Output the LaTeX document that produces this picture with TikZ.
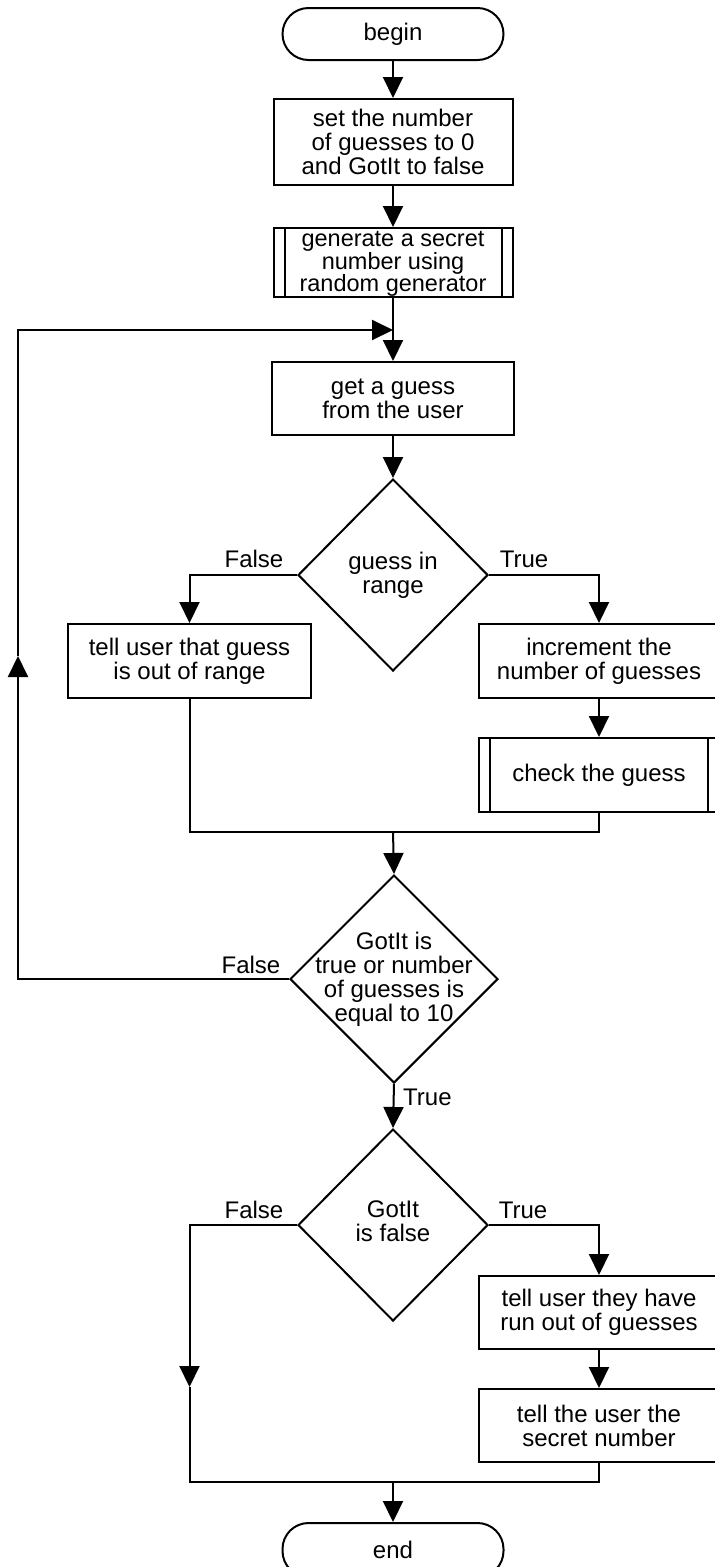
\documentclass[tikz,border=0pt]{standalone}
\usepackage{fontspec}
\setmainfont{Liberation Sans}
\usetikzlibrary{arrows.meta,shapes.geometric}

\tikzset{
  x=1pt, y=-1pt,
  base/.style={font={\fontsize{24}{24}\selectfont}, align=center, inner sep=0pt},
  flow/.style={line width=2pt, line join=miter},
  arr/.style={flow, -{Triangle[width=20pt,length=21pt]}},
  box/.style={base, draw, line width=2pt, minimum width=240pt, minimum height=74pt},
  subbox/.style={box},
  term/.style={base, draw, line width=2pt, rounded corners=26pt, minimum width=221pt, minimum height=52pt},
  decision/.style={diamond, draw, line width=2pt, inner sep=0pt, minimum width=190pt, minimum height=192pt},
  lbl/.style={base},
}

\begin{document}
\begin{tikzpicture}
\useasboundingbox (0,0) rectangle (715,1567);
\clip (0,0) rectangle (715,1567);

% main column
\node[term] (begin) at (393,34) {begin};
\node[box, minimum width=239pt, minimum height=86pt] (init) at (393,142) {set the number\\of guesses to 0\\and GotIt to false};
\node[subbox, minimum width=239pt, minimum height=69pt] (gen) at (393,262.5) {};
\node[base, font={\fontsize{23.5}{22.5}\selectfont}] at ([yshift=-1.5pt]gen.center) {generate a secret\\number using\\random generator};
\node[box, minimum width=242pt, minimum height=73pt] (get) at (393,398.5) {get a guess\\from the user};
\node[decision] (d1) at (393,575) {};
\node[base] at (d1) {guess in\\range};

% first decision branches
\node[box, minimum width=243pt] (out) at (189.5,661) {tell user that guess\\is out of range};
\node[box] (inc) at (599,661) {increment the\\number of guesses};
\node[subbox] (chk) at (599,775) {check the guess};

% loop test
\node[decision, minimum width=208pt, minimum height=208pt] (d2) at (394,979) {};
\node[base] at (d2) {GotIt is\\true or number\\of guesses is\\equal to 10};

% final test
\node[decision] (d3) at (393,1225) {};
\node[base] at ([yshift=4pt]d3.center) {GotIt\\is false};
\node[box, minimum height=73pt] (runout) at (599,1312.5) {tell user they have\\run out of guesses};
\node[box, minimum height=73pt] (secret) at (599,1425.5) {tell the user the\\secret number};
\node[term, minimum height=54pt] (end) at (393,1550) {end};

% side bars of the predefined-process boxes
\draw[flow] ([xshift=12pt]gen.north west) -- ([xshift=12pt]gen.south west);
\draw[flow] ([xshift=-12pt]gen.north east) -- ([xshift=-12pt]gen.south east);
\draw[flow] ([xshift=12pt]chk.north west) -- ([xshift=12pt]chk.south west);
\draw[flow] ([xshift=-12pt]chk.north east) -- ([xshift=-12pt]chk.south east);

% helper points
\coordinate (m1) at (393,832);
\coordinate (loopArrow) at (18,656);
\coordinate (loopIn) at (393,330);
\coordinate (fArrow) at (189.5,1387);
\coordinate (m2) at (393,1482);

% connectors
\draw[arr] (begin.south) -- (init.north);
\draw[arr] (init.south) -- (gen.north);
\draw[arr] (gen.south) -- (get.north);
\draw[arr] (get.south) -- (d1.north);
\draw[arr] (d1.west) -| (out.north);
\draw[arr] (d1.east) -| (inc.north);
\draw[arr] (inc.south) -- (chk.north);
\draw[flow] (out.south) |- (m1) -| (chk.south);
\draw[arr] (m1) -- (d2.north);
\draw[arr] (d2.west) -| (loopArrow);
\draw[arr] (loopArrow) |- (loopIn);
\draw[arr] (d2.south) -- (d3.north);
\draw[arr] (d3.west) -| (fArrow);
\draw[flow] (fArrow) |- (m2) -| (secret.south);
\draw[arr] (d3.east) -| (runout.north);
\draw[arr] (runout.south) -- (secret.north);
\draw[arr] (m2) -- (end.north);

% branch labels
\node[lbl] at (254,559) {False};
\node[lbl] at (524,559) {True};
\node[lbl] at (251,965) {False};
\node[lbl, anchor=west] at (403,1097) {True};
\node[lbl] at (254,1210) {False};
\node[lbl] at (523,1210) {True};
\end{tikzpicture}
\end{document}
